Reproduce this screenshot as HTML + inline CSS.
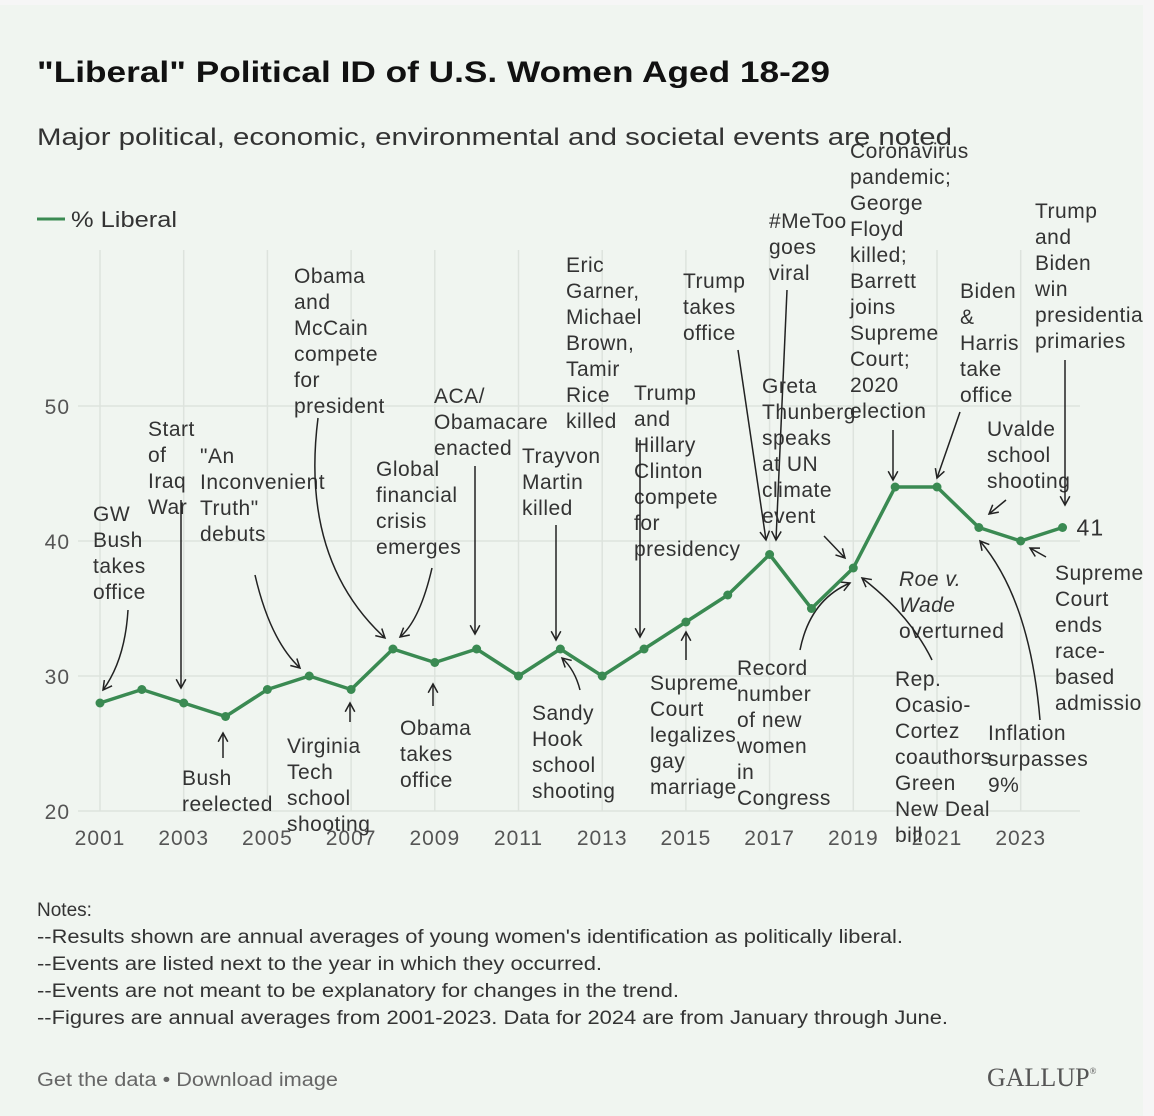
<!DOCTYPE html>
<html><head><meta charset="utf-8"><style>
html,body{margin:0;padding:0;background:#f6f6f6;}
svg{display:block;font-family:"Liberation Sans",sans-serif;}
</style></head><body>
<svg width="1154" height="1116" viewBox="0 0 1154 1116">
<rect x="0" y="5" width="1143" height="1111" fill="#f0f5f0"/>
<text x="37" y="82" font-size="30" font-weight="bold" fill="#111" textLength="793" lengthAdjust="spacingAndGlyphs">"Liberal" Political ID of U.S. Women Aged 18-29</text>
<text x="37" y="145" font-size="24" fill="#333" textLength="915" lengthAdjust="spacingAndGlyphs">Major political, economic, environmental and societal events are noted</text>
<line x1="37" y1="219" x2="65" y2="219" stroke="#3a8a52" stroke-width="3"/>
<text x="71" y="227" font-size="22" fill="#333" textLength="106" lengthAdjust="spacingAndGlyphs">% Liberal</text>
<g id="grid"></g>
<g id="annos" font-size="21" fill="#333" letter-spacing="0.5"></g>
<g id="series"></g>
<g font-size="19" fill="#333">
<text x="37" y="916">Notes:</text>
<text x="37" y="943" textLength="866" lengthAdjust="spacingAndGlyphs">--Results shown are annual averages of young women's identification as politically liberal.</text>
<text x="37" y="970" textLength="565" lengthAdjust="spacingAndGlyphs">--Events are listed next to the year in which they occurred.</text>
<text x="37" y="997" textLength="642" lengthAdjust="spacingAndGlyphs">--Events are not meant to be explanatory for changes in the trend.</text>
<text x="37" y="1024" textLength="911" lengthAdjust="spacingAndGlyphs">--Figures are annual averages from 2001-2023. Data for 2024 are from January through June.</text>
</g>
<text x="37" y="1086" font-size="19" fill="#666" textLength="301" lengthAdjust="spacingAndGlyphs">Get the data • Download image</text>
<text x="987" y="1086" font-size="26" fill="#555" font-family="Liberation Serif,serif">GALLUP<tspan font-size="9" dy="-12">®</tspan></text>
<rect id="edge" x="1143" y="0" width="11" height="1116" fill="#f6f6f6"/>
</svg>
<script>
const years=[2001,2002,2003,2004,2005,2006,2007,2008,2009,2010,2011,2012,2013,2014,2015,2016,2017,2018,2019,2020,2021,2022,2023,2024];
const liberal=[28,29,28,27,29,30,29,32,31,32,30,32,30,32,34,36,39,35,38,44,44,41,40,41];
const yTicks=[20,30,40,50];
const xTicks=[2001,2003,2005,2007,2009,2011,2013,2015,2017,2019,2021,2023];
const NS="http://www.w3.org/2000/svg";
function X(y){return 100+(y-2001)*41.85;}
function Y(v){return 811-(v-20)*13.5;}
function mk(tag,attrs,parent){const e=document.createElementNS(NS,tag);for(const k in attrs)e.setAttribute(k,attrs[k]);parent.appendChild(e);return e;}
const grid=document.getElementById('grid');
xTicks.forEach(t=>{
 const l=mk('line',{x1:X(t),x2:X(t),y1:250,y2:811,stroke:'#dde3dd','stroke-width':1.5},grid);
 
 
 const tx=mk('text',{x:X(t),y:845,'text-anchor':'middle','font-size':21,fill:'#555','letter-spacing':1},grid);
 tx.textContent=t;
 
 
});
yTicks.forEach(t=>{
 const l=mk('line',{x1:78,x2:1080,y1:Y(t),y2:Y(t),stroke:'#dde3dd','stroke-width':1.5},grid);
 
 
 const tx=mk('text',{x:70,y:Y(t)+8,'text-anchor':'end','font-size':21,fill:'#555','letter-spacing':1},grid);
 tx.textContent=t;
 
 
});
const ser=document.getElementById('series');
const pl=mk('polyline',{points:years.map((y,i)=>X(y)+','+Y(liberal[i])).join(' '),fill:'none',stroke:'#3a8a52','stroke-width':3.5,'stroke-linejoin':'round'},ser);


years.forEach((y,i)=>{
 const c=mk('circle',{cx:X(y),cy:Y(liberal[i]),r:4.5,fill:'#3a8a52'},ser);
 
 
});
const last=mk('text',{x:X(2024)+14,y:Y(liberal[23])+8,'font-size':23,fill:'#333','letter-spacing':1},ser);
last.textContent=liberal[23];


const annos=document.getElementById('annos');
const A=[
 [93,514,["GW","Bush","takes","office"],"M128,610 Q125,660 103,690",0],
 [148,429,["Start","of","Iraq","War"],"M181,500 L181,688",0],
 [200,456,["\"An","Inconvenient","Truth\"","debuts"],"M255,575 Q270,640 300,668",0],
 [294,276,["Obama","and","McCain","compete","for","president"],"M318,418 Q300,560 385,638",0],
 [376,469,["Global","financial","crisis","emerges"],"M432,568 Q420,620 400,637",0],
 [434,396,["ACA/","Obamacare","enacted"],"M475,466 L475,634",0],
 [522,456,["Trayvon","Martin","killed"],"M556,525 L556,640",0],
 [566,265,["Eric","Garner,","Michael","Brown,","Tamir","Rice","killed"],null,0],
 [634,393,["Trump","and","Hillary","Clinton","compete","for","presidency"],"M640,440 L640,637",0],
 [683,281,["Trump","takes","office"],"M738,350 L766,540",0],
 [769,221,["#MeToo","goes","viral"],"M787,290 L776,540",0],
 [762,386,["Greta","Thunberg","speaks","at UN","climate","event"],"M824,536 L845,558",0],
 [850,151,["Coronavirus","pandemic;","George","Floyd","killed;","Barrett","joins","Supreme","Court;","2020","election"],"M893,430 L893,480",0],
 [960,291,["Biden","&","Harris","take","office"],"M960,412 L937,478",0],
 [987,429,["Uvalde","school","shooting"],"M1006,500 L989,514",0],
 [1035,211,["Trump","and","Biden","win","presidential","primaries"],"M1065,360 L1065,505",0],
 [182,778,["Bush","reelected"],"M223,758 L223,733",0],
 [287,746,["Virginia","Tech","school","shooting"],"M350,722 L350,703",0],
 [400,728,["Obama","takes","office"],"M433,706 L433,684",0],
 [532,713,["Sandy","Hook","school","shooting"],"M580,690 Q575,670 562,658",0],
 [650,683,["Supreme","Court","legalizes","gay","marriage"],"M686,660 L686,632",0],
 [737,668,["Record","number","of new","women","in","Congress"],"M800,650 Q810,600 850,583",0],
 [899,579,["Roe v.","Wade"],null,1],
 [899,631,["overturned"],null,0],
 [895,679,["Rep.","Ocasio-","Cortez","coauthors","Green","New Deal","bill"],"M932,660 Q910,615 862,578",0],
 [988,733,["Inflation","surpasses","9%"],"M1040,720 Q1030,600 980,541",0],
 [1055,573,["Supreme","Court","ends","race-","based","admissions"],"M1046,557 L1030,548",0]
];
A.forEach((a,i)=>{
 const t=mk('text',{x:a[0],y:a[1]+7},annos);
 if(a[4])t.setAttribute('font-style','italic');
 a[2].forEach((s,j)=>{const ts=mk('tspan',{x:a[0],dy:j?26:0},t);ts.textContent=s;});
 
 
 if(a[3]){
  const p=mk('path',{d:a[3],fill:'none',stroke:'#222','stroke-width':1.5},annos);
  
  
  const nums=a[3].match(/-?[\d.]+/g).map(Number);
  const ex=nums[nums.length-2],ey=nums[nums.length-1],px=nums[nums.length-4],py=nums[nums.length-3];
  const ang=Math.atan2(ey-py,ex-px);
  const h=mk('path',{d:`M${ex-10*Math.cos(ang-0.5)},${ey-10*Math.sin(ang-0.5)} L${ex},${ey} L${ex-10*Math.cos(ang+0.5)},${ey-10*Math.sin(ang+0.5)}`,fill:'none',stroke:'#222','stroke-width':1.5},annos);
  
  
 }
});
</script>
</body></html>
